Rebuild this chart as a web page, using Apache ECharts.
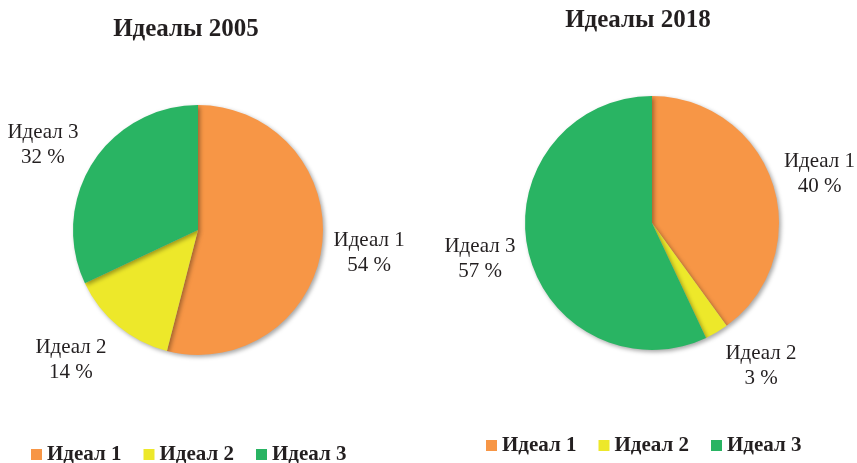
<!DOCTYPE html>
<html>
<head>
<meta charset="utf-8">
<script src="https://cdn.jsdelivr.net/npm/echarts@6/dist/echarts.min.js"></script>
<style>
  html, body { margin: 0; padding: 0; background: #fff; }
  #chart { width: 857px; height: 463px; }
</style>
</head>
<body>
<div id="chart"></div>
<script>
const categories = ['Идеал 1', 'Идеал 2', 'Идеал 3']
const values2005 = [54, 14, 32]
const values2018 = [40, 3, 57]
const titles = ['Идеалы 2005', 'Идеалы 2018']
const colors = ['#F79646', '#EDE82A', '#29B463']

// label leader lengths [length, length2] per slice, tuned to where the labels sit
const labelLines2005 = [[58.6, -52.1], [43.7, -21.5], [33.6, -19.9]]
const labelLines2018 = [[30, -22.8], [38.6, -16.3], [35.8, -27.9]]

const serif = '"Liberation Serif", "DejaVu Serif", serif'
const textColor = '#231f20'

function pieData(values, lines) {
    return categories.map((name, i) => ({
        name: name,
        value: values[i],
        labelLine: { show: false, length: lines[i][0], length2: lines[i][1] }
    }))
}

function pieSeries(values, lines, center, radius) {
    return {
        type: 'pie',
        center: center,
        radius: radius,
        startAngle: 90,
        clockwise: true,
        animation: false,
        silent: true,
        avoidLabelOverlap: false,
        data: pieData(values, lines),
        itemStyle: {
            shadowBlur: 4,
            shadowOffsetX: 2,
            shadowOffsetY: 2,
            shadowColor: 'rgba(0,0,0,0.35)'
        },
        label: {
            show: true,
            position: 'outside',
            width: 72,
            formatter: p => '{c|' + p.name + '}\n{c|' + p.value + ' %}',
            rich: {
                c: { align: 'center', fontFamily: serif, fontSize: 21, lineHeight: 25, color: textColor }
            }
        },
        labelLine: { show: false }
    }
}

const legendText = { fontFamily: serif, fontSize: 21, fontWeight: 'bold', color: textColor }
const titleText = { fontFamily: serif, fontSize: 25, fontWeight: 'bold', color: textColor }

const chart = echarts.init(document.getElementById('chart'))
chart.setOption({
    color: colors,
    title: [
        { text: titles[0], left: 181, top: 12, textAlign: 'center', textStyle: titleText },
        { text: titles[1], left: 633, top: 3, textAlign: 'center', textStyle: titleText }
    ],
    legend: [
        { data: categories, left: 26, top: 439, itemWidth: 11, itemHeight: 11, itemGap: 22,
          icon: 'rect', textStyle: legendText },
        { data: categories, left: 481, top: 430, itemWidth: 11, itemHeight: 11, itemGap: 22,
          icon: 'rect', textStyle: legendText }
    ],
    series: [
        pieSeries(values2005, labelLines2005, [198, 230], 125),
        pieSeries(values2018, labelLines2018, [652, 223], 127)
    ]
})
</script>
</body>
</html>
